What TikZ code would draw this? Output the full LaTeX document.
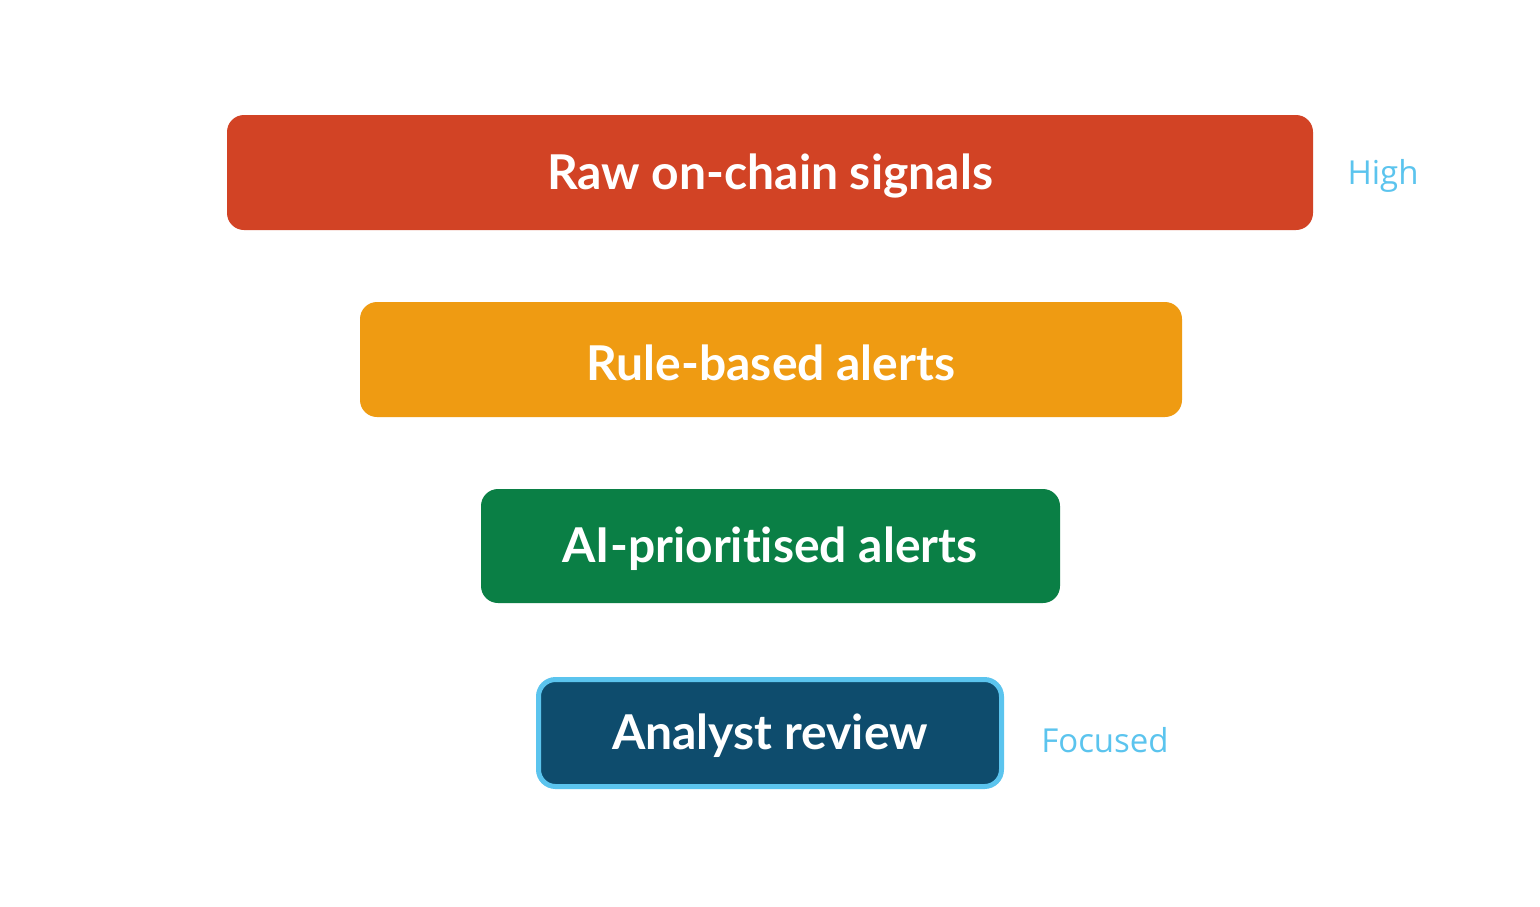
\documentclass[tikz,border=0pt]{standalone}
\usepackage{fontspec}
\setmainfont{Open Sans}
\newfontfamily\tierfont[Ligatures={NoCommon,NoContextual}]{Lato}
\definecolor{cred}{HTML}{D24325}
\definecolor{corange}{HTML}{EF9B12}
\definecolor{cgreen}{HTML}{0A7F45}
\definecolor{cnavy}{HTML}{0E4C6D}
\definecolor{cblue}{HTML}{5BC4EE}
\begin{document}
\begin{tikzpicture}[x=1pt,y=-1pt,
  tier/.style={rounded corners=17pt},
  tiertext/.style={text=white,font=\tierfont\fontsize{48}{52}\selectfont\bfseries},
  sidetext/.style={text=cblue,font=\fontsize{33}{36}\selectfont}]
\useasboundingbox (0,0) rectangle (1540,906);
\fill[white] (0,0) rectangle (1540,906);
\fill[tier,cred] (227,115) rectangle (1313,230);
\node[tiertext] (t1) at (770,176) {Raw on-chain signals};
\fill[tier,corange] (360,302) rectangle (1182,417);
\node[tiertext] (t2) at (771,363) {Rule-based alerts};
\fill[tier,cgreen] (481,489) rectangle (1060,603);
\node[tiertext] (t3) at (770,549) {AI-priorit\kern0pt ised alerts};
\filldraw[tier,fill=cnavy,draw=cblue,line width=5pt] (538.5,679.5) rectangle (1001.5,786.5);
\node[tiertext] (t4) at (770,736) {Analyst review};
\node[sidetext] (high) at (1383,176) {High};
\node[sidetext] (focused) at (1105,740) {Focused};
\end{tikzpicture}
\end{document}
